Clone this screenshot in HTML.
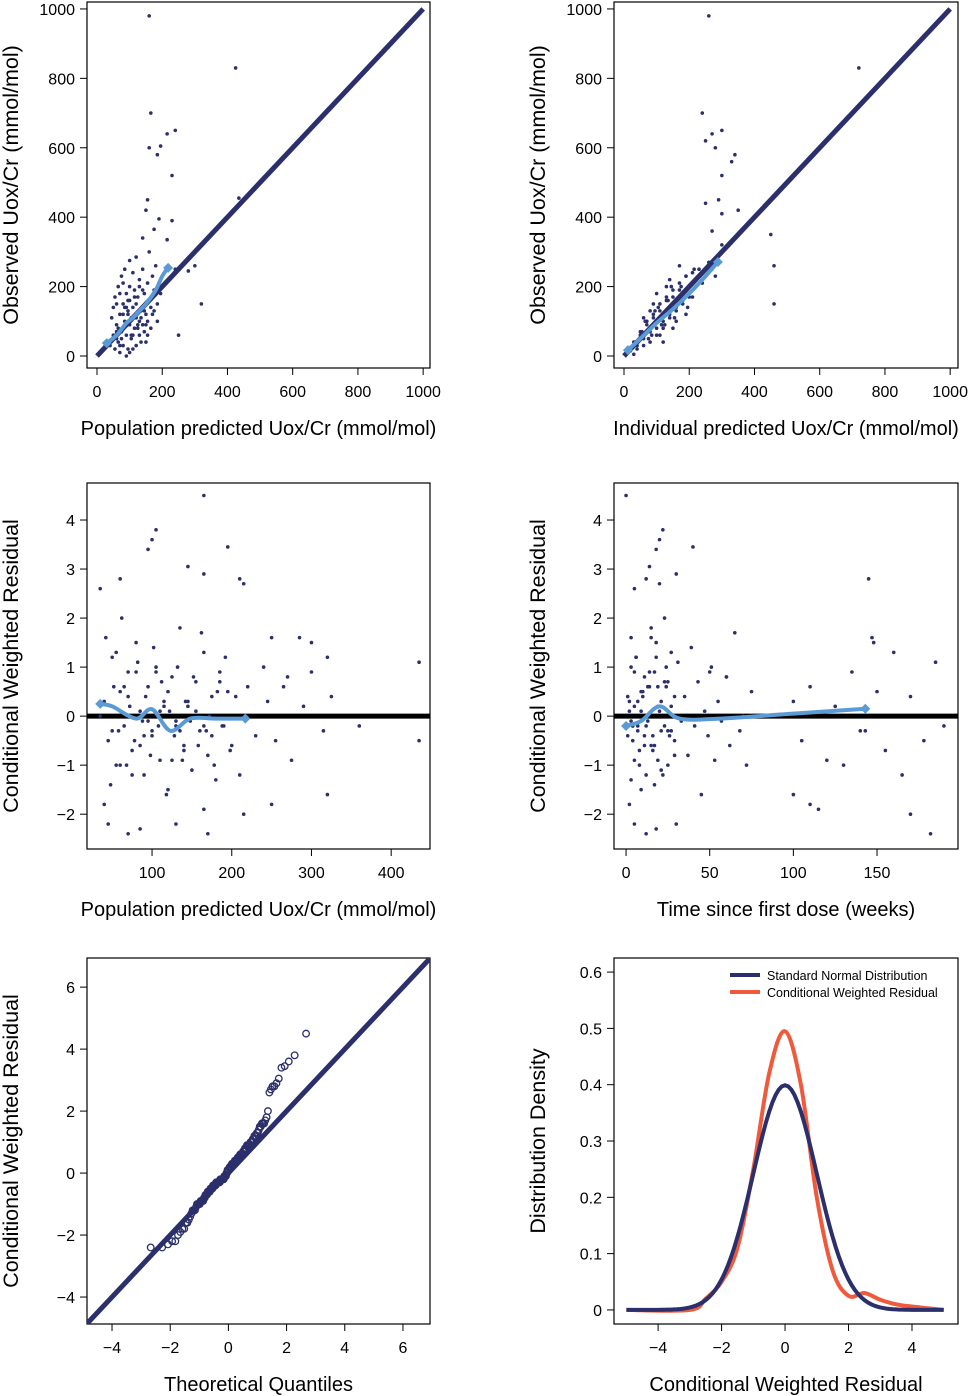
<!DOCTYPE html>
<html><head><meta charset="utf-8"><style>
body{margin:0;background:#fff}
svg{display:block;font-family:"Liberation Sans",Arial,sans-serif}
</style></head><body>
<svg id="chart" width="969" height="1396" viewBox="0 0 969 1396"></svg>
<script>
// ---- data ----
const p1Pred=[160,425,165,160,195,215,240,185,230,155,435,150,190,230,175,215,320,250,300,280,240,210,190,140,120,100,160,40,50,55,60,65,70,70,75,80,80,85,90,90,95,95,100,100,105,110,110,115,120,120,125,130,130,135,140,140,145,150,150,155,160,165,170,175,180,185,195,60,65,75,85,45,55,90,100,110,70,80,95,105,115,125,135,145,155,165,175,185,200,50,60,100,120,130,140,60,70,80,90,110,130,150,170,65,85,105,125,145,115,135,95,75,155];
const p1Obs=[980,830,700,600,605,640,650,580,520,450,455,420,395,390,365,335,150,60,260,245,250,245,210,340,285,275,300,30,60,20,90,40,120,10,70,150,30,100,60,180,130,20,90,200,50,140,240,80,110,30,170,60,220,130,90,250,180,120,40,210,160,80,230,130,260,100,180,150,200,230,250,110,170,0,10,20,180,210,160,110,190,80,40,70,100,140,190,150,230,140,70,160,150,100,190,50,30,120,140,60,200,90,120,80,140,60,90,130,170,110,120,50,60];
const p2Ipred=[260,720,240,250,270,300,330,280,340,290,460,300,250,350,300,450,460,270,300,380,20,30,40,50,60,70,80,90,100,110,120,130,140,150,160,170,180,190,200,210,220,230,240,260,280,30,40,50,60,70,80,90,100,110,120,130,140,150,160,170,180,190,200,35,55,75,95,115,135,155,175,195,215,65,85,105,125,145,90,110,130,150,170,190,210,120,140,160,100,80,60];
const p2Obs=[980,830,700,620,640,650,560,600,580,450,260,520,440,420,410,350,150,360,320,380,15,40,30,60,50,90,70,110,80,130,100,160,120,170,140,190,150,230,170,240,200,250,210,270,230,5,20,70,30,100,40,120,60,150,80,170,110,190,130,210,160,230,180,40,70,50,130,90,160,110,200,140,250,100,60,140,90,200,150,60,200,80,260,120,170,40,220,100,180,130,110];
const p3Pred=[165,105,100,95,145,195,210,60,35,215,165,285,300,320,435,250,270,300,325,315,360,435,320,250,215,170,165,40,45,70,85,130,40,45,50,55,60,65,70,75,80,85,90,95,100,105,110,115,120,125,130,135,140,145,150,155,160,165,170,175,180,185,190,195,200,35,42,48,52,58,62,68,72,78,82,88,92,98,102,108,112,118,122,128,132,138,142,148,152,158,162,168,172,178,182,188,192,198,205,210,220,230,240,245,255,265,275,290,60,80,100,120,140,55,75,95,115,135,155,175,65,85,105,125,145,165,185,50,70,90,110,130];
const p4Time=[0,22,20,18,14,40,145,12,5,20,30,147,148,18,185,3,60,50,170,143,190,178,100,110,170,182,115,2,5,12,18,30,2,4,6,8,10,12,14,16,18,20,22,24,26,3,5,7,9,11,13,15,17,19,21,23,25,27,29,1,3,5,7,9,11,13,15,17,19,21,23,25,27,29,31,33,35,37,39,41,43,45,47,49,51,53,55,57,60,62,65,68,70,72,75,4,6,8,10,12,14,16,24,100,105,110,120,125,130,135,140,150,155,160,165,3,5,7,9,11,13,15,17,19,21,23,25,27,29,1,2,4];
const cwres=[4.5,3.8,3.6,3.4,3.05,3.45,2.8,2.8,2.6,2.7,2.9,1.6,1.5,1.2,1.1,1.6,0.8,0.9,0.4,-0.3,-0.2,-0.5,-1.6,-1.8,-2.0,-2.4,-1.9,-1.8,-2.2,-2.4,-2.3,-2.2,0.3,-0.5,1.2,-1.0,0.5,-0.2,0.9,-0.7,1.5,0.1,-1.2,0.6,-0.4,1.0,-0.9,0.3,-1.5,0.8,-0.1,1.8,-0.6,0.2,-1.1,0.7,-0.3,1.3,-0.8,0.4,-1.3,0.9,-0.2,0.5,-0.6,0.0,1.6,-1.4,0.6,-0.3,2.0,-1.0,0.2,-0.5,1.1,-0.1,0.4,-0.8,1.4,-0.2,0.7,-1.6,0.1,-0.4,1.0,-0.9,0.3,-0.1,0.8,-0.6,1.7,-0.3,0.0,-1.0,0.5,-0.2,1.2,-0.7,0.4,-1.2,0.6,-0.4,1.0,0.3,-0.5,0.6,-0.9,0.2,-1.0,0.9,-0.3,0.5,-0.7,1.3,-1.2,-0.1,0.2,-0.3,0.1,-0.4,0.6,-0.6,0.9,-0.9,0.3,-0.2,0.7,-0.3,0.4,-0.4,0.1,-0.2];
const s1x=[30,60,90,110,130,150,180,200,218], s1y=[37,60,95,110,130,150,190,230,254];
const s2x=[12,50,100,150,200,250,288], s2y=[17,50,95,135,180,230,271];
const s3x=[35,50,80,100,123,148,180,217], s3y=[0.25,0.2,-0.05,0.14,-0.3,-0.05,-0.05,-0.05];
const s4x=[0,9,20,32,56,100,143], s4y=[-0.2,-0.1,0.2,-0.05,-0.05,0.05,0.15];
const kdeX=[-5,-3,-2.5,-2,-1.5,-1,-0.5,0,0.5,1,1.5,2,2.5,3,3.5,4,4.5,5];
const kdeY=[0,0,0.02,0.05,0.11,0.25,0.42,0.495,0.40,0.2,0.07,0.025,0.03,0.018,0.01,0.006,0.003,0];

const NS='http://www.w3.org/2000/svg', svg=document.getElementById('chart');
const NAVY='#2b2f6b', LB='#5b9bd5', RED='#f05a3c';
function mk(tag,attrs,parent){const e=document.createElementNS(NS,tag);for(const k in attrs)e.setAttribute(k,attrs[k]);(parent||svg).appendChild(e);return e;}
function scale(d0,d1,r0,r1){return v=>r0+(v-d0)/(d1-d0)*(r1-r0);}
function smoothPath(pts){let d='M'+pts[0][0]+','+pts[0][1];for(let i=0;i<pts.length-1;i++){const p0=pts[i-1]||pts[i],p1=pts[i],p2=pts[i+1],p3=pts[i+2]||p2;d+=' C'+(p1[0]+(p2[0]-p0[0])/6)+','+(p1[1]+(p2[1]-p0[1])/6)+' '+(p2[0]-(p3[0]-p1[0])/6)+','+(p2[1]-(p3[1]-p1[1])/6)+' '+p2[0]+','+p2[1];}return d;}

function panel(o){
  const g=mk('g',{});
  
  
  const x=scale(o.xd[0],o.xd[1],o.bx,o.bx+o.bw), y=scale(o.yd[0],o.yd[1],o.by+o.bh,o.by);
  const f=mk('rect',{x:o.bx,y:o.by,width:o.bw,height:o.bh,fill:'none',stroke:'#000','stroke-width':1.2},g);
  
  o.xt.forEach(t=>{const px=x(t);mk('line',{x1:px,x2:px,y1:o.by+o.bh,y2:o.by+o.bh+7,stroke:'#000'},g);
    const tx=mk('text',{x:px,y:o.by+o.bh+29,'text-anchor':'middle','font-size':16},g);tx.textContent=String(t).replace('-','\u2212');
    });
  o.yt.forEach(t=>{const py=y(t);mk('line',{x1:o.bx,x2:o.bx-7,y1:py,y2:py,stroke:'#000'},g);
    const tx=mk('text',{x:o.bx-12,y:py+6,'text-anchor':'end','font-size':16},g);tx.textContent=String(t).replace('-','\u2212');
    });
  const xt=mk('text',{x:o.bx+o.bw/2,y:o.by+o.bh+67,'text-anchor':'middle','font-size':20},g);xt.textContent=o.xl;
  
  const cy=o.by+o.bh/2, cx=o.bx-69;
  const yt=mk('text',{x:cx,y:cy,'text-anchor':'middle','font-size':21.5,transform:'rotate(-90 '+cx+' '+cy+')'},g);yt.textContent=o.yl;
  
  const cp=mk('clipPath',{id:o.name+'-clip'},g);mk('rect',{x:o.bx,y:o.by,width:o.bw,height:o.bh},cp);
  const inner=mk('g',{'clip-path':'url(#'+o.name+'-clip)'},g);
  return {g:inner,x,y};
}
function dots(P,xs,ys){xs.forEach((v,i)=>{const c=mk('circle',{cx:P.x(v),cy:P.y(ys[i]),r:1.8,fill:NAVY},P.g);
  });}
function trend(P,xs,ys){const pts=xs.map((v,i)=>[P.x(v),P.y(ys[i])]);
  const p=mk('path',{d:smoothPath(pts),fill:'none',stroke:LB,'stroke-width':4,'stroke-linejoin':'round'},P.g);
  
  [pts[0],pts[pts.length-1]].forEach(q=>{const d=mk('path',{d:`M${q[0]},${q[1]-5}l5,5l-5,5l-5,-5z`,fill:LB},P.g);
    });}
function refLine(P,a,b,c,d,col,w,name){const l=mk('line',{x1:P.x(a),y1:P.y(b),x2:P.x(c),y2:P.y(d),stroke:col,'stroke-width':w},P.g);
  }

// Panel 1
let P=panel({name:'pred-vs-obs-panel',bx:87,by:2,bw:343,bh:366,xd:[-30.7,1021],yd:[-34.6,1020],xt:[0,200,400,600,800,1000],yt:[0,200,400,600,800,1000],xl:'Population predicted Uox/Cr (mmol/mol)',yl:'Observed Uox/Cr (mmol/mol)'});
refLine(P,0,0,1000,1000,NAVY,5,'identity-line');dots(P,p1Pred,p1Obs);trend(P,s1x,s1y);
// Panel 2
P=panel({name:'ipred-vs-obs-panel',bx:614,by:2,bw:344,bh:366,xd:[-30.7,1024],yd:[-34.6,1020],xt:[0,200,400,600,800,1000],yt:[0,200,400,600,800,1000],xl:'Individual predicted Uox/Cr (mmol/mol)',yl:'Observed Uox/Cr (mmol/mol)'});
refLine(P,0,0,1000,1000,NAVY,5,'identity-line');dots(P,p2Ipred,p2Obs);trend(P,s2x,s2y);
// Panel 3
P=panel({name:'cwres-vs-pred-panel',bx:87,by:483,bw:343,bh:366,xd:[18.4,448.7],yd:[-2.71,4.755],xt:[100,200,300,400],yt:[-2,-1,0,1,2,3,4],xl:'Population predicted Uox/Cr (mmol/mol)',yl:'Conditional Weighted Residual'});
refLine(P,0,0,500,0,'#000',5,'zero-line');dots(P,p3Pred,cwres);trend(P,s3x,s3y);
// Panel 4
P=panel({name:'cwres-vs-time-panel',bx:614,by:483,bw:344,bh:366,xd:[-7.2,198.4],yd:[-2.71,4.755],xt:[0,50,100,150],yt:[-2,-1,0,1,2,3,4],xl:'Time since first dose (weeks)',yl:'Conditional Weighted Residual'});
refLine(P,-10,0,210,0,'#000',5,'zero-line');dots(P,p4Time,cwres);trend(P,s4x,s4y);
// Panel 5 QQ
function qnorm(p){const a=[-39.6968302866538,220.946098424521,-275.928510446969,138.357751867269,-30.6647980661472,2.50662827745924],b=[-54.4760987982241,161.585836858041,-155.698979859887,66.8013118877197,-13.2806815528857],c=[-0.00778489400243029,-0.322396458041136,-2.40075827716184,-2.54973253934373,4.37466414146497,2.93816398269878],d=[0.00778469570904146,0.32246712907004,2.445134137143,3.75440866190742];
 if(p<0.02425){const q=Math.sqrt(-2*Math.log(p));return(((((c[0]*q+c[1])*q+c[2])*q+c[3])*q+c[4])*q+c[5])/((((d[0]*q+d[1])*q+d[2])*q+d[3])*q+1);}
 if(p>1-0.02425){return -qnorm(1-p);} const q=p-0.5,r=q*q;return(((((a[0]*r+a[1])*r+a[2])*r+a[3])*r+a[4])*r+a[5])*q/(((((b[0]*r+b[1])*r+b[2])*r+b[3])*r+b[4])*r+1);}
P=panel({name:'qq-panel',bx:87,by:958,bw:343,bh:366,xd:[-4.86,6.93],yd:[-4.87,6.94],xt:[-4,-2,0,2,4,6],yt:[-4,-2,0,2,4,6],xl:'Theoretical Quantiles',yl:'Conditional Weighted Residual'});
refLine(P,-5,-5,7,7,NAVY,5,'identity-line');
const sorted=cwres.slice().sort((a,b)=>a-b), n=sorted.length;
sorted.forEach((v,i)=>{const t=qnorm((i+0.5)/n);const c=mk('circle',{cx:P.x(t),cy:P.y(v),r:3.3,fill:'none',stroke:NAVY,'stroke-width':1.3},P.g);
 });
// Panel 6 density
P=panel({name:'density-panel',bx:614,by:958,bw:344,bh:366,xd:[-5.39,5.45],yd:[-0.025,0.625],xt:[-4,-2,0,2,4],yt:[0,0.1,0.2,0.3,0.4,0.5,0.6],xl:'Conditional Weighted Residual',yl:'Distribution Density'});
const kp=mk('path',{d:smoothPath(kdeX.map((v,i)=>[P.x(v),P.y(kdeY[i])])),fill:'none',stroke:RED,'stroke-width':4},P.g);

const nx=[];for(let v=-5;v<=5.001;v+=0.1)nx.push(v);
const np=mk('path',{d:'M'+nx.map(v=>P.x(v)+','+P.y(Math.exp(-v*v/2)/Math.sqrt(2*Math.PI))).join(' L'),fill:'none',stroke:NAVY,'stroke-width':4},P.g);

const lg=mk('g',{});
[[NAVY,'Standard Normal Distribution',975],[RED,'Conditional Weighted Residual',992]].forEach(e=>{
 const l=mk('line',{x1:730,x2:760,y1:e[2],y2:e[2],stroke:e[0],'stroke-width':4},lg);
 const t=mk('text',{x:767,y:e[2]+5,'font-size':12.5},lg);t.textContent=e[1];});
</script></body></html>
